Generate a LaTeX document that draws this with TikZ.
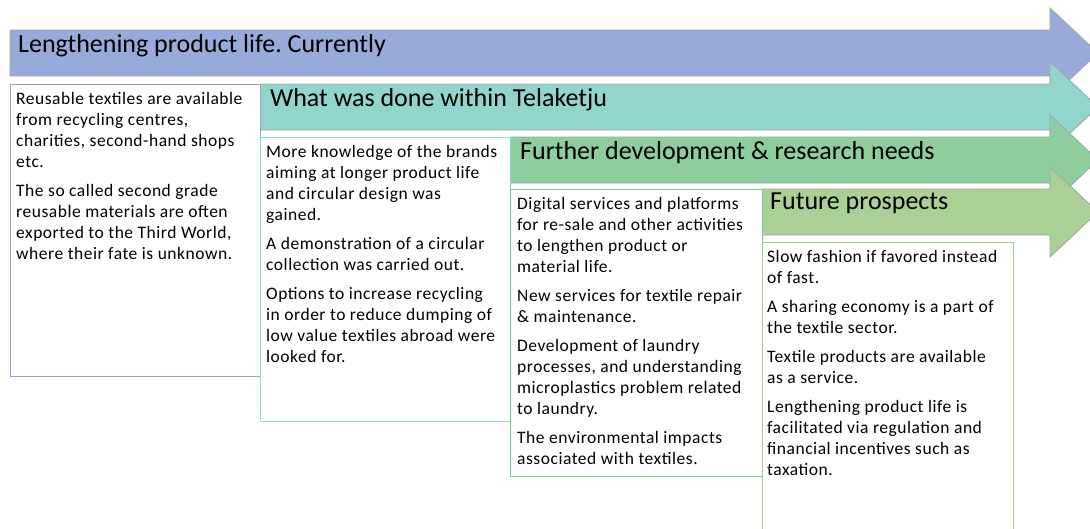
\documentclass[tikz,border=0pt]{standalone}
\usepackage{fontspec}
\setmainfont{Carlito}
\newfontfamily\widebody[LetterSpace=3]{Carlito}
\frenchspacing
\definecolor{bandblue}{RGB}{152,170,218}
\definecolor{bandteal}{RGB}{146,213,204}
\definecolor{bandgreen}{RGB}{142,205,158}
\definecolor{bandlime}{RGB}{170,208,150}
\definecolor{edgeblue}{RGB}{140,165,215}
\definecolor{edgeteal}{RGB}{150,212,205}
\definecolor{edgegreen}{RGB}{130,200,140}
\definecolor{edgelime}{RGB}{160,205,140}
\tikzset{
  band/.style={draw=gray!70, line width=0.9pt, line join=miter},
  panel/.style={draw=#1, line width=0.8pt, fill=white, inner sep=0pt, anchor=north west},
  heading/.style={anchor=north west, inner sep=0pt, font=\fontsize{26}{30}\selectfont},
  bodytext/.style={anchor=north west, inner sep=0pt, align=left, font=\widebody\fontsize{17.5}{21}\selectfont},
}
\begin{document}
\begin{tikzpicture}[x=1pt, y=-1pt]
    \useasboundingbox (0,0) rectangle (1090,528);
    \clip (0,0) rectangle (1090,528);

    % arrows, back to front
    \draw[band, fill=bandblue] (10,30) -- (1050,30) -- (1050,8) -- (1098,53) -- (1050,98) -- (1050,76) -- (10,76) -- cycle;
    \draw[band, fill=bandteal] (260,84) -- (1050,84) -- (1050,62) -- (1098,107) -- (1050,152) -- (1050,130) -- (260,130) -- cycle;
    \draw[band, fill=bandgreen] (510,137) -- (1050,137) -- (1050,115) -- (1098,160) -- (1050,205) -- (1050,183) -- (510,183) -- cycle;
    \draw[band, fill=bandlime] (762,189) -- (1050,189) -- (1050,167) -- (1098,212) -- (1050,257) -- (1050,235) -- (762,235) -- cycle;

    \node[heading] (now) at (18,34) {Lengthening product life. Currently};
    \node[heading] (done) at (270,88) {What was done within Telaketju};
    \node[heading] (needs) at (520,141) {Further development \& research needs};
    \node[heading] (future) at (770,193) {Future prospects};

    % boxes under the arrows
    \node[panel=edgeblue, minimum width=250pt, minimum height=292pt] (p1) at (10,84) {};
    \node[panel=edgeteal, minimum width=250pt, minimum height=284pt] (p2) at (260,137) {};
    \node[panel=edgegreen, minimum width=252pt, minimum height=287pt] (p3) at (510,189) {};
    \node[panel=edgelime, minimum width=251pt, minimum height=300pt] (p4) at (762,242) {};

    \node[bodytext] (t1) at (16,92.5) {Reusable textiles are available\\ from recycling centres,\\ charities, second-hand shops\\ etc.\\[8pt]
      The so called second grade\\ reusable materials are often\\ exported to the Third World,\\ where their fate is unknown.};
    \node[bodytext] (t2) at (266,145.5) {More knowledge of the brands\\ aiming at longer product life\\ and circular design was\\ gained.\\[8pt]
      A demonstration of a circular\\ collection was carried out.\\[8pt]
      Options to increase recycling\\ in order to reduce dumping of\\ low value textiles abroad were\\ looked for.};
    \node[bodytext] (t3) at (517,197.5) {Digital services and platforms\\ for re-sale and other activities\\ to lengthen product or\\ material life.\\[8pt]
      New services for textile repair\\ \& maintenance.\\[8pt]
      Development of laundry\\ processes, and understanding\\ microplastics problem related\\ to laundry.\\[8pt]
      The environmental impacts\\ associated with textiles.};
    \node[bodytext] (t4) at (767,250.5) {Slow fashion if favored instead\\ of fast.\\[8pt]
      A sharing economy is a part of\\ the textile sector.\\[8pt]
      Textile products are available\\ as a service.\\[8pt]
      Lengthening product life is\\ facilitated via regulation and\\ financial incentives such as\\ taxation.};
\end{tikzpicture}
\end{document}
